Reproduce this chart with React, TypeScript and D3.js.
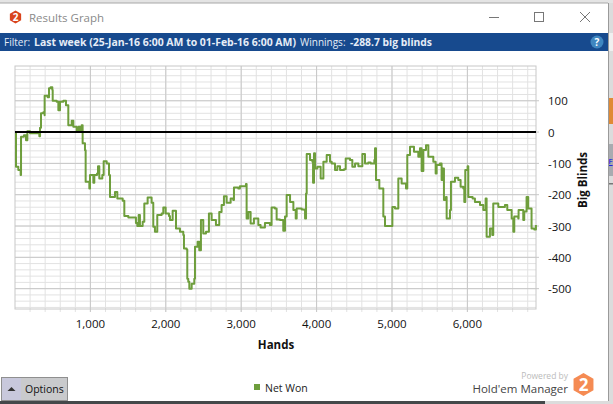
import React from "react";
import * as d3 from "d3";

const hands = [9,13,44,75,80,119,146,164,199,256,323,332,345,376,393,393,433,451,473,495,500,553,575,597,641,676,707,752,774,818,844,862,884,897,928,937,986,995,1039,1052,1088,1101,1118,1158,1176,1216,1247,1260,1326,1357,1428,1450,1503,1604,1622,1640,1657,1693,1715,1759,1812,1834,1856,1887,1945,1967,1998,2042,2055,2091,2117,2135,2188,2232,2241,2276,2285,2298,2312,2343,2378,2387,2422,2444,2466,2497,2497,2533,2572,2608,2652,2665,2696,2709,2740,2771,2807,2860,2895,2904,2961,2983,3019,3063,3072,3094,3125,3169,3227,3257,3315,3381,3403,3447,3470,3514,3558,3581,3603,3648,3692,3723,3736,3802,3838,3847,3860,3869,3913,3944,3953,3966,3979,4010,4054,4090,4134,4178,4200,4244,4275,4311,4364,4386,4443,4474,4510,4554,4607,4642,4686,4717,4766,4775,4788,4832,4885,4885,4907,4996,5005,5040,5071,5084,5128,5186,5203,5239,5292,5349,5371,5393,5416,5451,5482,5548,5579,5592,5636,5658,5672,5689,5716,5725,5769,5782,5835,5879,5910,5946,5959,5972,6003,6012,6069,6100,6167,6211,6242,6255,6299,6330,6343,6410,6498,6529,6587,6609,6622,6675,6679,6741,6754,6785,6807,6851,6887,6909];
const netWon = [0,-111,-121,-137,-15,-10,-26,3,-4,-4,-13,14,60,63,54,116,111,140,143,134,100,97,70,97,100,86,22,36,17,1,17,1,22,-36,-58,-159,-180,-137,-162,-137,-132,-109,-148,-137,-93,-100,-137,-207,-191,-212,-219,-268,-273,-290,-300,-265,-300,-286,-228,-209,-226,-302,-318,-265,-260,-241,-260,-268,-281,-251,-251,-308,-318,-329,-372,-375,-468,-478,-500,-484,-468,-366,-350,-377,-281,-281,-324,-318,-260,-281,-281,-297,-297,-255,-233,-205,-226,-212,-217,-177,-180,-173,-173,-166,-276,-255,-292,-276,-297,-305,-290,-297,-241,-244,-279,-281,-315,-270,-201,-223,-249,-276,-244,-247,-249,-276,-196,-70,-89,-95,-162,-68,-116,-111,-148,-95,-73,-95,-100,-121,-109,-121,-119,-84,-89,-111,-100,-109,-70,-100,-97,-100,-89,-52,-153,-180,-187,-270,-300,-300,-239,-244,-244,-148,-164,-180,-73,-47,-63,-79,-52,-124,-57,-42,-79,-95,-132,-105,-100,-153,-116,-217,-207,-276,-249,-159,-146,-153,-175,-180,-223,-121,-109,-207,-212,-223,-233,-249,-212,-334,-308,-329,-228,-239,-233,-249,-276,-318,-270,-276,-249,-281,-254,-207,-244,-308,-311,-297];

const xTickValues = [1000, 2000, 3000, 4000, 5000, 6000];
const yTickValues = [100, 0, -100, -200, -300, -400, -500];
const xMinor = d3.range(200, 6901, 200);
const yMinor = d3.range(-560, 211, 20);

const W = 613, H = 404;
const plot = { l: 15, r: 536, t: 66, b: 309 };
const x = d3.scaleLinear().domain([0, 6910]).range([plot.l, plot.r]);
const y = d3.scaleLinear().domain([-565, 211]).range([plot.b, plot.t]);
const lineGen = d3.line<number>().x((_, i) => x(hands[i])).y((d) => y(d)).curve(d3.curveStepAfter);
const fmt = d3.format(",");
const FONT = "'Open Sans', 'Noto Sans', sans-serif";
const hexPts = (cx: number, cy: number, r: number) =>
  d3.range(6).map((i) => {
    const a = Math.PI / 6 + (i * Math.PI) / 3;
    return `${cx + r * Math.cos(a)},${cy + r * Math.sin(a)}`;
  }).join(" ");

export default function App() {
  return (
    <svg width={W} height={H} viewBox={`0 0 ${W} ${H}`}
      style={{ position: "fixed", left: 0, top: 0, display: "block" }} fontFamily={FONT}>
      {/* desktop behind the window */}
      <rect width={W} height={H} fill="#dcdcdc" />
      <rect x={608} y={33} width={5} height={18} fill="#f0f0f0" />
      <rect x={609} y={98} width={4} height={26} fill="#e08a35" />
      <rect x={609} y={144} width={4} height={32} fill="#a8abb0" />
      <text x={608.5} y={164} fontSize={8} fill="#0000ee" textDecoration="underline">F</text>
      <rect x={609} y={183} width={4} height={1.5} fill="#777" />
      <rect x={0} y={0} width={W} height={3} fill="#e4e4e4" />
      <rect x={0} y={401} width={545} height={3} fill="#44484a" />
      {/* window */}
      <rect x={0} y={3} width={608} height={398} fill="#ffffff" />
      <rect x={608} y={3} width={1} height={398} fill="#9a9a9a" />
      <rect x={0} y={2.5} width={608} height={1} fill="#a8a8a8" />
      {/* title bar */}
      <polygon points={hexPts(15.5, 17, 6.5)} fill="#d9431c" />
      <text x={15.5} y={20.5} fontSize={10} fontWeight={700} fill="#fff" textAnchor="middle">2</text>
      <text x={29} y={22} fontSize={11.5} fill="#8a8a8a">Results Graph</text>
      <line x1={489} x2={499} y1={17.5} y2={17.5} stroke="#777" />
      <rect x={534.5} y={12.5} width={9} height={9} fill="none" stroke="#777" />
      <path d="M580,12 L590,22 M590,12 L580,22" stroke="#777" fill="none" />
      {/* filter bar */}
      <rect x={0} y={33} width={608} height={18} fill="#174a8e" />
      <text x={4} y={46} fontSize={10} fill="#e6edf7">Filter:</text>
      <text x={34} y={46} fontSize={10} fontWeight={700} fill="#e6edf7" textLength={262} lengthAdjust="spacingAndGlyphs">Last week (25-Jan-16 6:00 AM to 01-Feb-16 6:00 AM)</text>
      <text x={300} y={46} fontSize={10} fill="#e6edf7">Winnings:</text>
      <text x={350} y={46} fontSize={10} fontWeight={700} fill="#e6edf7" textLength={82} lengthAdjust="spacingAndGlyphs">-288.7 big blinds</text>
      <circle cx={597} cy={42} r={6.5} fill="#3f86c0" />
      <text x={597} y={45.5} fontSize={10} fontWeight={700} fill="#fff" textAnchor="middle">?</text>
      {/* grid */}
      <g stroke="#e2e2e2" strokeWidth={1}>
        {yMinor.map((v) => <line key={v} x1={plot.l} x2={plot.r} y1={y(v)} y2={y(v)} />)}
        {xMinor.map((v) => <line key={v} x1={x(v)} x2={x(v)} y1={plot.t} y2={plot.b + 3} />)}
      </g>
      <g stroke="#c8c8c8" strokeWidth={1}>
        {yTickValues.map((v) => <line key={v} x1={plot.l} x2={plot.r + 3} y1={y(v)} y2={y(v)} />)}
        {xTickValues.map((v) => <line key={v} x1={x(v)} x2={x(v)} y1={plot.t} y2={plot.b + 3} />)}
        <rect x={plot.l} y={plot.t} width={plot.r - plot.l} height={plot.b - plot.t} fill="none" />
      </g>
      {/* series */}
      <path d={lineGen(netWon) ?? ""} fill="none" stroke="#6e9e3c" strokeWidth={2} strokeLinejoin="round" />
      {/* zero line */}
      <line x1={plot.l} x2={plot.r} y1={y(0)} y2={y(0)} stroke="#000" strokeWidth={2} />
      {/* axes */}
      {xTickValues.map((v) => (
        <text key={v} x={x(v)} y={328} fontSize={11.5} fill="#111" textAnchor="middle">{fmt(v)}</text>
      ))}
      {yTickValues.map((v) => (
        <text key={v} x={548} y={y(v) + 4.5} fontSize={11.5} fill="#111" textAnchor="start">{String(v)}</text>
      ))}
      <text x={276} y={349} fontSize={11.5} fontWeight={700} fill="#111" textAnchor="middle">Hands</text>
      <text transform="translate(587,180) rotate(-90)" fontSize={11.5} fontWeight={700} fill="#111" textAnchor="middle">Big Blinds</text>
      {/* options button */}
      <rect x={1.5} y={377.5} width={66} height={23} fill="#c9cacc" stroke="#8f8f8f" />
      <rect x={2} y={378} width={19} height={22} fill="#c8c8dc" />
      <path d="M7.5,391 L15.5,391 L11.5,387 Z" fill="#333" />
      <text x={25} y={393} fontSize={10.5} fill="#111">Options</text>
      {/* legend */}
      <rect x={254} y={384} width={6} height={6} fill="#6e9e3c" />
      <text x={265} y={392} fontSize={10.5} fill="#222">Net Won</text>
      {/* branding */}
      <text x={568} y={379} fontSize={8.5} fill="#bbb" textAnchor="end">Powered by</text>
      <text x={568} y={393} fontSize={11.5} fill="#444" textAnchor="end">Hold'em Manager</text>
      <polygon points={hexPts(583.5, 384.5, 11.5)} fill="#f58b53" />
      <text x={583.5} y={390.5} fontSize={17} fontWeight={700} fill="#fff" textAnchor="middle">2</text>
    </svg>
  );
}
